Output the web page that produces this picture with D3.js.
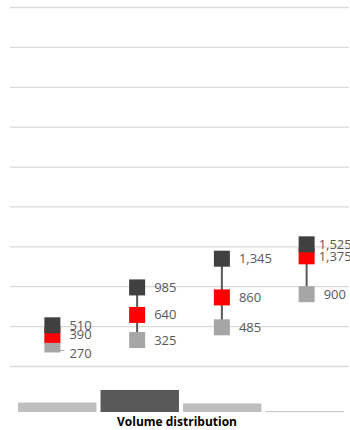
<!DOCTYPE html>
<html>
<head>
<meta charset="utf-8">
<script src="https://cdn.jsdelivr.net/npm/d3@7"></script>
<style>
  body { margin: 0; background: #fff; }
  svg { display: block; font-family: "Open Sans", Lato, sans-serif; }
</style>
</head>
<body>
<svg id="chart" width="350" height="430"></svg>
<script>
// chart data
const categories = ['A', 'B', 'C', 'D'];
const lowValues = [270, 325, 485, 900];
const midValues = [390, 640, 860, 1375];
const highValues = [510, 985, 1345, 1525];
const volumes = [43, 100, 39, 4];   // mini volume bars, % of max
const yTicks = d3.range(0, 4501, 500);
const volumeTitle = 'Volume distribution';

const svg = d3.select('#chart');
const margin = { top: 7, right: 1, bottom: 64, left: 10 };
const width = 350 - margin.left - margin.right;
const height = 430 - margin.top - margin.bottom;

const chart = svg.append('g')
  .attr('transform', `translate(${margin.left}, ${margin.top})`);

const x = d3.scaleBand().domain(categories).range([0, width]);
const y = d3.scaleLinear().domain([0, 4500]).range([height, 0]);

// gridlines
chart.append('g')
  .call(d3.axisLeft(y).tickValues(yTicks).tickSize(-width).tickFormat(''))
  .call(g => g.select('.domain').remove())
  .call(g => g.selectAll('.tick line').attr('stroke', '#d9d9d9').attr('stroke-width', 1.3));

const rows = categories.map((c, i) => ({
  cat: c, low: lowValues[i], mid: midValues[i], high: highValues[i]
}));
const cx = d => x(d.cat) + x.bandwidth() / 2;
const sq = 16;
const fmt = d3.format(',');

// connecting lines
chart.selectAll('.range')
  .data(rows)
  .enter().append('line')
  .attr('class', 'range')
  .attr('x1', cx).attr('x2', cx)
  .attr('y1', d => y(d.low)).attr('y2', d => y(d.high))
  .attr('stroke', '#595959').attr('stroke-width', 2);

const series = [
  { key: 'low', color: '#a6a6a6' },
  { key: 'mid', color: '#ff0000' },
  { key: 'high', color: '#404040' }
];

series.forEach(s => {
  chart.selectAll('.sq-' + s.key)
    .data(rows)
    .enter().append('rect')
    .attr('class', 'sq-' + s.key)
    .attr('x', d => cx(d) - sq / 2)
    .attr('y', d => y(d[s.key]) - sq / 2)
    .attr('width', sq).attr('height', sq)
    .attr('fill', s.color);
});

// labels (first low label is nudged down, with a leader line)
const labelShift = (key, i) => (key === 'low' && i === 0) ? 9 : 0;
const labelGap = (key, i) => (i === 3 && key !== 'low') ? 12 : 17;
series.forEach(s => {
  chart.selectAll('.lb-' + s.key)
    .data(rows)
    .enter().append('text')
    .attr('class', 'lb-' + s.key)
    .attr('x', (d, i) => cx(d) + labelGap(s.key, i))
    .attr('y', (d, i) => y(d[s.key]) + labelShift(s.key, i))
    .attr('dy', '0.35em')
    .attr('font-size', 13)
    .attr('fill', '#595959')
    .text(d => fmt(d[s.key]));
});

chart.append('path')
  .attr('d', () => {
    const d = rows[0];
    const px = cx(d), py = y(d.low);
    return `M${px + 4},${py + 4} L${px + 6},${py + 6} L${px + 12},${py + 6}`;
  })
  .attr('fill', 'none').attr('stroke', '#a6a6a6').attr('stroke-width', 1);

// volume distribution mini bars
const vTop = 390, vBase = 412;
const xv = d3.scaleBand().domain(categories).range([margin.left + 8, 344]).paddingInner(0.05);
const yv = d3.scaleLinear().domain([0, 100]).range([vBase, vTop]);
svg.append('g').selectAll('rect')
  .data(volumes)
  .enter().append('rect')
  .attr('x', (d, i) => xv(categories[i]))
  .attr('y', d => yv(d))
  .attr('width', xv.bandwidth())
  .attr('height', d => Math.max(1, vBase - yv(d)))
  .attr('fill', (d, i) => i === 1 ? '#595959' : '#bfbfbf');

svg.append('text')
  .attr('x', 177).attr('y', 426)
  .attr('text-anchor', 'middle')
  .attr('font-size', 12)
  .attr('font-weight', 'bold')
  .attr('fill', '#000')
  .text(volumeTitle);
</script>
</body>
</html>
